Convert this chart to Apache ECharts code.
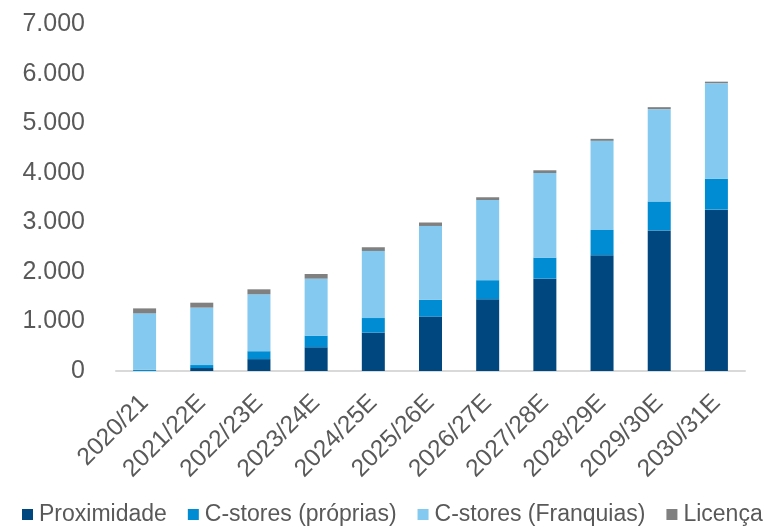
<!DOCTYPE html>
<html>
<head>
<meta charset="utf-8">
<script src="https://cdn.jsdelivr.net/npm/echarts@6/dist/echarts.min.js"></script>
<style>
  html, body { margin: 0; padding: 0; background: #fff; }
  #chart { width: 768px; height: 527px; }
</style>
</head>
<body>
<div id="chart"></div>
<script>
// Number of stores by format, per crop year
const categories = ['2020/21', '2021/22E', '2022/23E', '2023/24E', '2024/25E', '2025/26E',
                    '2026/27E', '2027/28E', '2028/29E', '2029/30E', '2030/31E'];
const proximidade = [0, 60, 240, 480, 775, 1100, 1450, 1865, 2340, 2840, 3260];
const cstoresProprias = [25, 60, 160, 235, 295, 340, 385, 425, 510, 585, 625];
const cstoresFranquias = [1140, 1160, 1150, 1150, 1355, 1490, 1620, 1710, 1800, 1865, 1930];
const licenca = [100, 100, 100, 95, 75, 70, 55, 55, 40, 40, 30];
const yTicks = [0, 1000, 2000, 3000, 4000, 5000, 6000, 7000];

const FONT = '"Liberation Sans", Arial, sans-serif';
const TEXT = '#595959';

function fmt(v) {
  return String(v).replace(/\B(?=(\d{3})+(?!\d))/g, '.');
}

function bar(name, data, color) {
  return {
    name: name,
    type: 'bar',
    stack: 'total',
    data: data,
    barWidth: 23,
    itemStyle: { color: color },
    emphasis: { disabled: true }
  };
}

const chart = echarts.init(document.getElementById('chart'), null, { renderer: 'canvas' });
chart.setOption({
  animation: false,
  textStyle: { fontFamily: FONT },
  grid: { left: 116, right: 23, top: 24.5, bottom: 156, containLabel: false },
  legend: {
    left: 22,
    top: 503,
    padding: 0,
    icon: 'rect',
    itemWidth: 11,
    itemHeight: 11,
    itemGap: 21,
    textStyle: { fontFamily: FONT, fontSize: 23, color: TEXT, padding: [0, 0, 0, 1] },
    data: ['Proximidade', 'C-stores (próprias)', 'C-stores (Franquias)', 'Licença']
  },
  xAxis: {
    type: 'category',
    data: categories,
    axisLine: { show: true, lineStyle: { color: '#d9d9d9', width: 2 } },
    axisTick: { show: false },
    axisLabel: {
      rotate: 45,
      interval: 0,
      fontFamily: FONT,
      fontSize: 24.5,
      color: TEXT,
      margin: 28
    }
  },
  yAxis: {
    type: 'value',
    min: yTicks[0],
    max: yTicks[yTicks.length - 1],
    interval: 1000,
    splitLine: { show: false },
    axisLine: { show: false },
    axisTick: { show: false },
    axisLabel: {
      fontFamily: FONT,
      fontSize: 25,
      color: TEXT,
      margin: 31,
      formatter: fmt
    }
  },
  series: [
    bar('Proximidade', proximidade, '#00467f'),
    bar('C-stores (próprias)', cstoresProprias, '#008cd3'),
    bar('C-stores (Franquias)', cstoresFranquias, '#84c9ef'),
    bar('Licença', licenca, '#808080')
  ]
});
</script>
</body>
</html>
